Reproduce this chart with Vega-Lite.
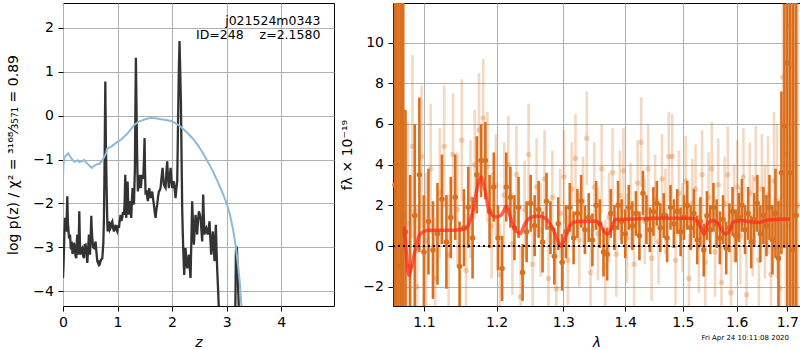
{
  "$schema": "https://vega.github.io/schema/vega-lite/v6.json",
  "padding": {"left": 5, "top": 1, "right": 1, "bottom": 0},
  "autosize": {"type": "pad"},
  "bounds": "flush",
  "spacing": 59,
  "config": {
    "font": "DejaVu Sans",
    "view": {"stroke": "black", "strokeWidth": 1},
    "axis": {"domain": false, "grid": true, "gridColor": "#b0b0b0", "gridWidth": 1, "tickColor": "black", "tickSize": 5, "labelFontSize": 14, "labelColor": "black", "labelPadding": 4.5, "titleFontSize": 14, "titleFontWeight": "normal", "titleColor": "black", "labelFlush": false},
    "title": {"font": "DejaVu Sans"}
  },
  "datasets": {
    "pz": [
      {"z":0.000,"v":-3.70},{"z":0.010,"v":-3.40},{"z":0.025,"v":-2.70},{"z":0.037,"v":-2.33},{"z":0.050,"v":-2.60},{"z":0.061,"v":-2.64},{"z":0.079,"v":-1.84},{"z":0.090,"v":-2.45},{"z":0.098,"v":-2.56},{"z":0.110,"v":-2.80},
      {"z":0.128,"v":-2.71},{"z":0.145,"v":-3.05},{"z":0.159,"v":-2.87},{"z":0.175,"v":-3.15},{"z":0.189,"v":-3.10},{"z":0.200,"v":-2.90},{"z":0.214,"v":-2.98},{"z":0.230,"v":-3.20},{"z":0.244,"v":-3.25},{"z":0.255,"v":-2.85},
      {"z":0.263,"v":-2.71},{"z":0.272,"v":-3.05},{"z":0.281,"v":-3.17},{"z":0.290,"v":-2.80},{"z":0.299,"v":-2.18},{"z":0.310,"v":-2.90},{"z":0.324,"v":-3.17},{"z":0.338,"v":-3.05},{"z":0.354,"v":-3.02},{"z":0.370,"v":-3.20},
      {"z":0.385,"v":-3.25},{"z":0.400,"v":-2.95},{"z":0.415,"v":-2.94},{"z":0.430,"v":-3.10},{"z":0.446,"v":-3.36},{"z":0.462,"v":-3.00},{"z":0.476,"v":-2.71},{"z":0.485,"v":-3.05},{"z":0.495,"v":-3.17},{"z":0.507,"v":-2.80},
      {"z":0.519,"v":-2.28},{"z":0.528,"v":-2.60},{"z":0.537,"v":-2.79},{"z":0.552,"v":-3.00},{"z":0.568,"v":-3.02},{"z":0.583,"v":-2.95},{"z":0.598,"v":-2.87},{"z":0.612,"v":-3.10},{"z":0.629,"v":-3.32},{"z":0.650,"v":-3.38},
      {"z":0.665,"v":-3.30},{"z":0.678,"v":-3.36},{"z":0.700,"v":-3.28},{"z":0.721,"v":-3.25},{"z":0.740,"v":-2.90},{"z":0.751,"v":-2.33},{"z":0.765,"v":-0.80},{"z":0.776,"v":0.78},{"z":0.786,"v":-0.60},{"z":0.800,"v":-1.65},
      {"z":0.810,"v":-2.30},{"z":0.818,"v":-2.64},{"z":0.830,"v":-2.45},{"z":0.843,"v":-2.41},{"z":0.858,"v":-2.60},{"z":0.873,"v":-2.56},{"z":0.888,"v":-2.45},{"z":0.904,"v":-2.41},{"z":0.918,"v":-2.55},{"z":0.934,"v":-2.64},
      {"z":0.950,"v":-2.55},{"z":0.965,"v":-2.49},{"z":0.980,"v":-2.60},{"z":0.995,"v":-2.64},{"z":1.010,"v":-2.50},{"z":1.026,"v":-2.56},{"z":1.040,"v":-2.40},{"z":1.056,"v":-2.26},{"z":1.070,"v":-2.40},{"z":1.087,"v":-2.33},
      {"z":1.100,"v":-2.20},{"z":1.118,"v":-2.26},{"z":1.130,"v":-2.00},{"z":1.142,"v":-1.35},{"z":1.150,"v":-1.90},{"z":1.160,"v":-2.33},{"z":1.172,"v":-1.80},{"z":1.185,"v":-1.50},{"z":1.195,"v":-2.00},{"z":1.203,"v":-2.26},
      {"z":1.215,"v":-2.05},{"z":1.227,"v":-1.95},{"z":1.240,"v":-2.15},{"z":1.252,"v":-2.33},{"z":1.265,"v":-1.90},{"z":1.276,"v":-1.65},{"z":1.290,"v":-1.85},{"z":1.301,"v":-2.03},{"z":1.310,"v":-1.60},{"z":1.319,"v":-1.19},
      {"z":1.328,"v":0.20},{"z":1.337,"v":1.32},{"z":1.346,"v":0.40},{"z":1.356,"v":-0.59},{"z":1.365,"v":-1.30},{"z":1.374,"v":-1.73},{"z":1.383,"v":-1.55},{"z":1.392,"v":-1.65},{"z":1.400,"v":-1.50},{"z":1.411,"v":-1.35},
      {"z":1.420,"v":-1.50},{"z":1.429,"v":-1.65},{"z":1.440,"v":-1.45},{"z":1.453,"v":-1.35},{"z":1.462,"v":-1.42},{"z":1.472,"v":-1.42},{"z":1.485,"v":-1.00},{"z":1.496,"v":-0.51},{"z":1.505,"v":-1.30},{"z":1.515,"v":-1.80},
      {"z":1.525,"v":-1.70},{"z":1.533,"v":-1.73},{"z":1.545,"v":-1.85},{"z":1.557,"v":-1.95},{"z":1.570,"v":-1.75},{"z":1.582,"v":-1.65},{"z":1.595,"v":-1.80},{"z":1.606,"v":-1.88},{"z":1.620,"v":-1.80},{"z":1.637,"v":-1.73},
      {"z":1.652,"v":-1.90},{"z":1.667,"v":-2.03},{"z":1.682,"v":-2.20},{"z":1.698,"v":-2.33},{"z":1.712,"v":-2.15},{"z":1.728,"v":-2.03},{"z":1.743,"v":-1.85},{"z":1.759,"v":-1.73},{"z":1.775,"v":-1.70},{"z":1.789,"v":-1.65},
      {"z":1.808,"v":-1.40},{"z":1.826,"v":-1.19},{"z":1.838,"v":-1.40},{"z":1.850,"v":-1.57},{"z":1.865,"v":-1.62},{"z":1.881,"v":-1.65},{"z":1.895,"v":-1.30},{"z":1.911,"v":-1.04},{"z":1.925,"v":-1.40},{"z":1.942,"v":-1.65},
      {"z":1.958,"v":-1.40},{"z":1.973,"v":-1.19},{"z":1.988,"v":-1.45},{"z":2.003,"v":-1.65},{"z":2.018,"v":-1.55},{"z":2.034,"v":-1.50},{"z":2.050,"v":-1.70},{"z":2.064,"v":-1.88},{"z":2.080,"v":-1.65},{"z":2.095,"v":-1.50},
      {"z":2.105,"v":-0.60},{"z":2.113,"v":0.10},{"z":2.125,"v":1.10},{"z":2.137,"v":1.70},{"z":2.150,"v":1.00},{"z":2.162,"v":0.33},{"z":2.175,"v":-1.00},{"z":2.186,"v":-2.11},{"z":2.195,"v":-2.60},{"z":2.205,"v":-3.02},
      {"z":2.215,"v":-3.40},{"z":2.223,"v":-3.63},{"z":2.235,"v":-3.30},{"z":2.247,"v":-3.02},{"z":2.262,"v":-3.30},{"z":2.278,"v":-3.48},{"z":2.293,"v":-3.30},{"z":2.308,"v":-3.17},{"z":2.323,"v":-3.45},{"z":2.339,"v":-3.70},
      {"z":2.355,"v":-2.80},{"z":2.369,"v":-1.95},{"z":2.385,"v":-2.50},{"z":2.400,"v":-2.94},{"z":2.415,"v":-2.60},{"z":2.431,"v":-2.26},{"z":2.446,"v":-2.50},{"z":2.461,"v":-2.71},{"z":2.476,"v":-2.40},{"z":2.492,"v":-2.18},
      {"z":2.507,"v":-2.25},{"z":2.522,"v":-2.33},{"z":2.538,"v":-2.60},{"z":2.553,"v":-2.87},{"z":2.562,"v":-2.30},{"z":2.571,"v":-1.80},{"z":2.583,"v":-2.30},{"z":2.595,"v":-2.71},{"z":2.610,"v":-2.60},{"z":2.626,"v":-2.56},
      {"z":2.641,"v":-2.65},{"z":2.656,"v":-2.71},{"z":2.672,"v":-2.55},{"z":2.687,"v":-2.41},{"z":2.702,"v":-2.80},{"z":2.718,"v":-3.17},{"z":2.733,"v":-2.90},{"z":2.748,"v":-2.64},{"z":2.763,"v":-3.00},{"z":2.779,"v":-3.32},
      {"z":2.791,"v":-2.90},{"z":2.803,"v":-2.49},{"z":2.815,"v":-3.00},{"z":2.827,"v":-3.48},{"z":2.842,"v":-3.90},{"z":2.858,"v":-4.40},{"z":2.880,"v":-5.00},{"z":2.920,"v":-5.60},{"z":2.980,"v":-6.00},{"z":3.050,"v":-5.80},
      {"z":3.120,"v":-5.20},{"z":3.160,"v":-4.50},{"z":3.170,"v":-3.20},{"z":3.176,"v":-2.98},{"z":3.190,"v":-3.02},{"z":3.200,"v":-3.40},{"z":3.210,"v":-3.86},{"z":3.230,"v":-4.60},{"z":3.280,"v":-5.50},{"z":3.350,"v":-6.00}
    ],
    "chi": [
      {"z":0.000,"v":-1.40},{"z":0.008,"v":-1.10},{"z":0.030,"v":-0.95},{"z":0.060,"v":-0.90},{"z":0.097,"v":-0.86},{"z":0.130,"v":-0.93},{"z":0.170,"v":-1.00},{"z":0.207,"v":-1.05},{"z":0.240,"v":-1.03},{"z":0.270,"v":-1.02},
      {"z":0.300,"v":-1.06},{"z":0.340,"v":-1.04},{"z":0.391,"v":-1.01},{"z":0.420,"v":-1.06},{"z":0.453,"v":-1.10},{"z":0.490,"v":-1.15},{"z":0.527,"v":-1.19},{"z":0.560,"v":-1.15},{"z":0.606,"v":-1.12},{"z":0.640,"v":-1.10},
      {"z":0.666,"v":-1.10},{"z":0.700,"v":-1.05},{"z":0.728,"v":-1.01},{"z":0.760,"v":-0.93},{"z":0.789,"v":-0.86},{"z":0.810,"v":-0.75},{"z":0.840,"v":-0.73},{"z":0.881,"v":-0.71},{"z":0.930,"v":-0.66},{"z":0.972,"v":-0.62},
      {"z":1.020,"v":-0.58},{"z":1.064,"v":-0.55},{"z":1.120,"v":-0.48},{"z":1.187,"v":-0.40},{"z":1.250,"v":-0.30},{"z":1.308,"v":-0.21},{"z":1.380,"v":-0.14},{"z":1.462,"v":-0.10},{"z":1.540,"v":-0.07},{"z":1.615,"v":-0.05},
      {"z":1.700,"v":-0.06},{"z":1.798,"v":-0.08},{"z":1.890,"v":-0.10},{"z":1.982,"v":-0.12},{"z":2.060,"v":-0.17},{"z":2.134,"v":-0.23},{"z":2.210,"v":-0.31},{"z":2.288,"v":-0.40},{"z":2.380,"v":-0.52},{"z":2.472,"v":-0.67},
      {"z":2.565,"v":-0.85},{"z":2.655,"v":-1.05},{"z":2.750,"v":-1.27},{"z":2.839,"v":-1.51},{"z":2.920,"v":-1.74},{"z":3.000,"v":-2.00},{"z":3.060,"v":-2.25},{"z":3.120,"v":-2.60},{"z":3.170,"v":-3.00},{"z":3.210,"v":-3.40},
      {"z":3.245,"v":-3.85},{"z":3.275,"v":-4.40},{"z":3.300,"v":-4.90}
    ],
    "dark": [
      {"lam":1.0625,"f":3.0,"e":20},{"lam":1.064,"f":4.0,"e":20},{"lam":1.067,"f":-1.0,"e":18},{"lam":1.070,"f":3.9,"e":15},{"lam":1.073,"f":1.5,"e":12},{"lam":1.076,"f":0.7,"e":6},{"lam":1.082,"f":-1.0,"e":4.5},{"lam":1.088,"f":1.5,"e":4.5},{"lam":1.094,"f":3.5,"e":3.8},{"lam":1.100,"f":-0.3,"e":2.8},{"lam":1.106,"f":1.2,"e":2.6},{"lam":1.112,"f":-0.2,"e":2.4},{"lam":1.118,"f":0.6,"e":2.5},
      {"lam":1.124,"f":2.3,"e":2.2},{"lam":1.130,"f":0.2,"e":2.3},{"lam":1.136,"f":1.4,"e":2.0},{"lam":1.142,"f":2.4,"e":2.1},{"lam":1.148,"f":-1.0,"e":2.2},{"lam":1.154,"f":0.9,"e":1.9},{"lam":1.160,"f":1.9,"e":2.0},{"lam":1.166,"f":0.4,"e":2.0},{"lam":1.172,"f":3.5,"e":1.9},{"lam":1.178,"f":4.2,"e":1.8},
      {"lam":1.184,"f":4.2,"e":1.9},{"lam":1.190,"f":1.7,"e":1.8},{"lam":1.196,"f":2.9,"e":1.7},{"lam":1.202,"f":0.4,"e":1.6},{"lam":1.208,"f":-1.1,"e":1.6},{"lam":1.214,"f":2.9,"e":1.7},{"lam":1.220,"f":2.4,"e":1.5},{"lam":1.226,"f":0.9,"e":1.6},{"lam":1.232,"f":1.9,"e":1.5},{"lam":1.238,"f":-1.3,"e":1.4},
      {"lam":1.244,"f":0.7,"e":1.5},{"lam":1.250,"f":2.1,"e":1.4},{"lam":1.256,"f":1.0,"e":1.5},{"lam":1.262,"f":1.8,"e":1.4},{"lam":1.268,"f":0.2,"e":1.5},{"lam":1.274,"f":2.2,"e":1.4},{"lam":1.280,"f":0.9,"e":1.3},{"lam":1.286,"f":-0.5,"e":1.4},{"lam":1.292,"f":1.1,"e":1.3},{"lam":1.298,"f":-0.8,"e":1.4},
      {"lam":1.304,"f":0.7,"e":1.3},{"lam":1.310,"f":1.9,"e":1.2},{"lam":1.316,"f":0.4,"e":1.3},{"lam":1.322,"f":1.6,"e":1.2},{"lam":1.328,"f":2.2,"e":1.3},{"lam":1.334,"f":0.8,"e":1.2},{"lam":1.340,"f":1.4,"e":1.2},{"lam":1.346,"f":0.3,"e":1.3},{"lam":1.352,"f":2.0,"e":1.2},{"lam":1.358,"f":1.1,"e":1.2},
      {"lam":1.364,"f":-0.3,"e":1.2},{"lam":1.370,"f":-0.4,"e":1.3},{"lam":1.376,"f":1.6,"e":1.2},{"lam":1.382,"f":0.9,"e":1.1},{"lam":1.388,"f":2.0,"e":1.2},{"lam":1.394,"f":1.2,"e":1.1},{"lam":1.400,"f":0.6,"e":1.2},{"lam":1.406,"f":1.9,"e":1.1},{"lam":1.412,"f":1.0,"e":1.2},{"lam":1.418,"f":1.6,"e":1.1},
      {"lam":1.424,"f":0.5,"e":1.2},{"lam":1.430,"f":2.6,"e":1.1},{"lam":1.436,"f":1.3,"e":1.2},{"lam":1.442,"f":0.8,"e":1.1},{"lam":1.448,"f":1.7,"e":1.2},{"lam":1.454,"f":2.1,"e":1.1},{"lam":1.460,"f":0.9,"e":1.2},{"lam":1.466,"f":1.5,"e":1.1},{"lam":1.472,"f":0.4,"e":1.2},{"lam":1.478,"f":1.9,"e":1.1},
      {"lam":1.484,"f":1.1,"e":1.2},{"lam":1.490,"f":1.7,"e":1.1},{"lam":1.496,"f":0.7,"e":1.2},{"lam":1.502,"f":1.4,"e":1.1},{"lam":1.508,"f":2.0,"e":1.2},{"lam":1.514,"f":0.9,"e":1.1},{"lam":1.520,"f":1.6,"e":1.2},{"lam":1.526,"f":0.3,"e":1.2},{"lam":1.532,"f":1.2,"e":1.2},{"lam":1.538,"f":-0.2,"e":1.3},
      {"lam":1.544,"f":1.5,"e":1.2},{"lam":1.550,"f":0.8,"e":1.2},{"lam":1.556,"f":1.9,"e":1.2},{"lam":1.562,"f":1.1,"e":1.2},{"lam":1.568,"f":0.4,"e":1.3},{"lam":1.574,"f":1.3,"e":1.2},{"lam":1.580,"f":-0.1,"e":1.3},{"lam":1.586,"f":0.9,"e":1.2},{"lam":1.592,"f":1.7,"e":1.2},{"lam":1.598,"f":0.5,"e":1.3},
      {"lam":1.604,"f":1.4,"e":1.2},{"lam":1.610,"f":2.0,"e":1.3},{"lam":1.616,"f":0.8,"e":1.2},{"lam":1.622,"f":1.6,"e":1.3},{"lam":1.628,"f":0.2,"e":1.3},{"lam":1.634,"f":1.3,"e":1.3},{"lam":1.640,"f":2.1,"e":1.4},{"lam":1.646,"f":0.6,"e":1.4},{"lam":1.652,"f":1.5,"e":1.4},{"lam":1.658,"f":1.0,"e":1.5},
      {"lam":1.664,"f":1.9,"e":1.6},{"lam":1.670,"f":0.3,"e":1.7},{"lam":1.676,"f":1.6,"e":2.2},{"lam":1.682,"f":-0.6,"e":2.8},{"lam":1.688,"f":3.6,"e":4.0},{"lam":1.694,"f":5.9,"e":6},{"lam":1.700,"f":9.0,"e":12},{"lam":1.706,"f":3.6,"e":15},{"lam":1.712,"f":-0.2,"e":20},{"lam":1.718,"f":1.5,"e":20}
    ],
    "light": [
      {"lam":1.067,"f":4.4,"e":10},{"lam":1.073,"f":6.2,"e":6},{"lam":1.079,"f":1.1,"e":5},{"lam":1.085,"f":4.9,"e":4.5},{"lam":1.091,"f":-2.0,"e":4},{"lam":1.097,"f":4.4,"e":3.5},{"lam":1.103,"f":0.3,"e":3.3},{"lam":1.109,"f":3.8,"e":3.2},{"lam":1.115,"f":-1.6,"e":3.0},{"lam":1.121,"f":2.6,"e":3.2},
      {"lam":1.127,"f":4.9,"e":3.0},{"lam":1.133,"f":-0.4,"e":2.9},{"lam":1.139,"f":4.5,"e":3.0},{"lam":1.145,"f":1.8,"e":2.8},{"lam":1.151,"f":5.2,"e":3.0},{"lam":1.157,"f":-1.2,"e":2.8},{"lam":1.163,"f":2.3,"e":2.9},{"lam":1.169,"f":4.0,"e":2.7},{"lam":1.175,"f":5.7,"e":2.8},{"lam":1.181,"f":6.3,"e":2.9},
      {"lam":1.187,"f":3.9,"e":2.7},{"lam":1.193,"f":1.0,"e":2.6},{"lam":1.199,"f":3.0,"e":2.5},{"lam":1.205,"f":-1.4,"e":2.5},{"lam":1.211,"f":2.5,"e":2.6},{"lam":1.217,"f":4.0,"e":2.4},{"lam":1.223,"f":0.1,"e":2.5},{"lam":1.229,"f":3.5,"e":2.4},{"lam":1.235,"f":-2.5,"e":2.5},{"lam":1.241,"f":1.8,"e":2.4},
      {"lam":1.247,"f":4.5,"e":2.5},{"lam":1.253,"f":-0.9,"e":2.3},{"lam":1.259,"f":2.9,"e":2.4},{"lam":1.265,"f":0.8,"e":2.3},{"lam":1.271,"f":3.3,"e":2.4},{"lam":1.277,"f":-1.6,"e":2.3},{"lam":1.283,"f":2.4,"e":2.3},{"lam":1.289,"f":-2.1,"e":2.4},{"lam":1.295,"f":1.6,"e":2.2},{"lam":1.301,"f":3.4,"e":2.3},
      {"lam":1.307,"f":-0.7,"e":2.2},{"lam":1.313,"f":2.8,"e":2.3},{"lam":1.319,"f":4.3,"e":2.2},{"lam":1.325,"f":0.3,"e":2.3},{"lam":1.331,"f":2.2,"e":2.2},{"lam":1.337,"f":5.3,"e":2.3},{"lam":1.343,"f":-1.3,"e":2.2},{"lam":1.349,"f":2.9,"e":2.2},{"lam":1.355,"f":0.6,"e":2.3},{"lam":1.361,"f":3.8,"e":2.2},
      {"lam":1.367,"f":-1.0,"e":2.3},{"lam":1.373,"f":1.4,"e":2.2},{"lam":1.379,"f":3.6,"e":2.2},{"lam":1.385,"f":-0.4,"e":2.1},{"lam":1.391,"f":2.5,"e":2.2},{"lam":1.397,"f":3.7,"e":2.1},{"lam":1.403,"f":0.4,"e":2.2},{"lam":1.409,"f":2.0,"e":2.1},{"lam":1.415,"f":-0.9,"e":2.2},{"lam":1.421,"f":3.1,"e":2.1},
      {"lam":1.427,"f":5.1,"e":2.2},{"lam":1.433,"f":1.2,"e":2.1},{"lam":1.439,"f":3.8,"e":2.2},{"lam":1.445,"f":-0.6,"e":2.1},{"lam":1.451,"f":2.3,"e":2.2},{"lam":1.457,"f":0.2,"e":2.1},{"lam":1.463,"f":3.3,"e":2.2},{"lam":1.469,"f":1.7,"e":2.1},{"lam":1.475,"f":4.4,"e":2.2},{"lam":1.481,"f":4.4,"e":2.1},
      {"lam":1.487,"f":-0.7,"e":2.2},{"lam":1.493,"f":2.6,"e":2.1},{"lam":1.499,"f":0.9,"e":2.2},{"lam":1.505,"f":3.2,"e":2.2},{"lam":1.511,"f":-1.6,"e":2.2},{"lam":1.517,"f":2.1,"e":2.2},{"lam":1.523,"f":2.8,"e":2.2},{"lam":1.529,"f":0.0,"e":2.3},{"lam":1.535,"f":3.5,"e":2.2},{"lam":1.541,"f":-0.8,"e":2.3},
      {"lam":1.547,"f":2.4,"e":2.2},{"lam":1.553,"f":3.8,"e":2.3},{"lam":1.559,"f":-0.3,"e":2.2},{"lam":1.565,"f":3.0,"e":2.3},{"lam":1.571,"f":-1.8,"e":2.3},{"lam":1.577,"f":2.1,"e":2.3},{"lam":1.583,"f":3.5,"e":2.4},{"lam":1.589,"f":-2.3,"e":2.3},{"lam":1.595,"f":1.6,"e":2.4},{"lam":1.601,"f":2.9,"e":2.3},
      {"lam":1.607,"f":0.5,"e":2.4},{"lam":1.613,"f":3.4,"e":2.4},{"lam":1.619,"f":-2.4,"e":2.4},{"lam":1.625,"f":2.6,"e":2.5},{"lam":1.631,"f":1.0,"e":2.5},{"lam":1.637,"f":3.3,"e":2.6},{"lam":1.643,"f":-0.7,"e":2.6},{"lam":1.649,"f":2.8,"e":2.7},{"lam":1.655,"f":1.2,"e":2.8},{"lam":1.661,"f":2.5,"e":2.9},
      {"lam":1.667,"f":-1.4,"e":3.1},{"lam":1.673,"f":3.2,"e":3.4},{"lam":1.679,"f":2.2,"e":3.8},{"lam":1.685,"f":-2.1,"e":4.5},{"lam":1.691,"f":8.3,"e":6},{"lam":1.697,"f":4.5,"e":8},{"lam":1.703,"f":10.8,"e":10},{"lam":1.709,"f":8.9,"e":12},{"lam":1.715,"f":6.0,"e":15},{"lam":1.721,"f":2.0,"e":20}
    ],
    "model": [
      {"lam":1.0742,"f":0.95},{"lam":1.0770,"f":-0.3},{"lam":1.0802,"f":-1.44},{"lam":1.0840,"f":-1.0},{"lam":1.0870,"f":-0.45},{"lam":1.0900,"f":-0.05},{"lam":1.0930,"f":0.45},{"lam":1.0970,"f":0.65},{"lam":1.1057,"f":0.78},{"lam":1.1200,"f":0.78},
      {"lam":1.1400,"f":0.78},{"lam":1.1535,"f":0.82},{"lam":1.1590,"f":0.95},{"lam":1.1630,"f":1.3},{"lam":1.1675,"f":1.83},{"lam":1.1710,"f":2.6},{"lam":1.1746,"f":3.14},{"lam":1.1783,"f":3.39},{"lam":1.1810,"f":3.1},{"lam":1.1840,"f":2.65},
      {"lam":1.1885,"f":1.83},{"lam":1.1930,"f":1.55},{"lam":1.1984,"f":1.43},{"lam":1.2061,"f":1.5},{"lam":1.2100,"f":1.7},{"lam":1.2140,"f":1.97},{"lam":1.2193,"f":1.5},{"lam":1.2250,"f":0.95},{"lam":1.2302,"f":0.69},{"lam":1.2350,"f":0.61},
      {"lam":1.2400,"f":1.0},{"lam":1.2460,"f":1.3},{"lam":1.2527,"f":1.43},{"lam":1.2600,"f":1.48},{"lam":1.2730,"f":1.35},{"lam":1.2790,"f":1.1},{"lam":1.2838,"f":0.85},{"lam":1.2900,"f":0.35},{"lam":1.2963,"f":-0.01},{"lam":1.3000,"f":0.2},
      {"lam":1.3045,"f":0.53},{"lam":1.3110,"f":1.05},{"lam":1.3210,"f":1.2},{"lam":1.3400,"f":1.22},{"lam":1.3523,"f":1.22},{"lam":1.3570,"f":1.12},{"lam":1.3609,"f":0.95},{"lam":1.3650,"f":0.7},{"lam":1.3699,"f":0.6},{"lam":1.3735,"f":0.65},
      {"lam":1.3769,"f":0.85},{"lam":1.3800,"f":1.1},{"lam":1.3830,"f":1.3},{"lam":1.4166,"f":1.33},{"lam":1.4500,"f":1.37},{"lam":1.4900,"f":1.37},{"lam":1.5197,"f":1.35},{"lam":1.5260,"f":1.2},{"lam":1.5320,"f":0.95},{"lam":1.5390,"f":0.59},
      {"lam":1.5460,"f":1.15},{"lam":1.5560,"f":1.25},{"lam":1.5600,"f":1.22},{"lam":1.5670,"f":1.0},{"lam":1.5720,"f":0.75},{"lam":1.5770,"f":0.6},{"lam":1.5840,"f":0.65},{"lam":1.5890,"f":0.9},{"lam":1.5930,"f":1.18},{"lam":1.6090,"f":1.25},
      {"lam":1.6250,"f":1.2},{"lam":1.6405,"f":1.15},{"lam":1.6610,"f":1.28},{"lam":1.7000,"f":1.33},{"lam":1.7050,"f":1.32}
    ]
  },
  "hconcat": [
    {
      "width": 271,
      "height": 303,
      "layer": [
        {
          "data": {"name": "pz"},
          "mark": {"type": "line", "color": "#333333", "strokeWidth": 2.3, "clip": true},
          "encoding": {
            "x": {"field": "z", "type": "quantitative", "title": "z", "scale": {"domain": [0, 4.97], "nice": false, "zero": false}, "axis": {"values": [0, 1, 2, 3, 4], "titleFontStyle": "italic", "titlePadding": 6}},
            "y": {"field": "v", "type": "quantitative", "title": "log p(z) / χ² = ³¹⁶⁸⁄₃₅₇₁ = 0.89", "scale": {"domain": [-4.34, 2.57], "nice": false, "zero": false}, "axis": {"values": [-4, -3, -2, -1, 0, 1, 2], "minExtent": 30, "maxExtent": 30, "titlePadding": 13}}
          }
        },
        {
          "data": {"name": "chi"},
          "mark": {"type": "line", "color": "#8bbadb", "strokeWidth": 2, "clip": true},
          "encoding": {
            "x": {"field": "z", "type": "quantitative", "title": "z"},
            "y": {"field": "v", "type": "quantitative", "title": "log p(z) / χ² = ³¹⁶⁸⁄₃₅₇₁ = 0.89"}
          }
        },
        {
          "data": {"values": [{}]},
          "mark": {"type": "text", "align": "right", "baseline": "middle", "fontSize": 12.5, "color": "black", "text": "j021524m0343"},
          "encoding": {"x": {"datum": 4.72}, "y": {"datum": 2.15}}
        },
        {
          "data": {"values": [{}]},
          "mark": {"type": "text", "align": "right", "baseline": "middle", "fontSize": 12.5, "color": "black", "text": "ID=248\u00a0\u00a0\u00a0\u00a0z=2.1580"},
          "encoding": {"x": {"datum": 4.72}, "y": {"datum": 1.83}}
        }
      ]
    },
    {
      "width": 407,
      "height": 303,
      "title": {"text": "Fri Apr 24 10:11:08 2020", "orient": "bottom", "anchor": "end", "fontSize": 7, "fontWeight": "normal", "color": "black", "offset": -16, "dx": -12},
      "layer": [
        {
          "data": {"name": "light"},
          "mark": {"type": "errorbar", "color": "#d9701f", "opacity": 0.27, "thickness": 2.6},
          "encoding": {
            "x": {"field": "lam", "type": "quantitative", "title": "λ", "scale": {"type": "log", "domain": [1.06, 1.726], "nice": false}, "axis": {"values": [1.1, 1.2, 1.3, 1.4, 1.5, 1.6, 1.7], "format": ".1f", "titleFontStyle": "italic", "titlePadding": 6}},
            "y": {"field": "f", "type": "quantitative", "title": "fλ × 10⁻¹⁹", "scale": {"domain": [-2.95, 11.95], "nice": false, "zero": false, "clamp": true}, "axis": {"values": [-2, 0, 2, 4, 6, 8, 10], "minExtent": 27, "maxExtent": 27, "titlePadding": 12}},
            "yError": {"field": "e"}
          }
        },
        {
          "data": {"name": "light"},
          "mark": {"type": "point", "filled": true, "color": "#d9701f", "opacity": 0.3, "size": 30},
          "encoding": {
            "x": {"field": "lam", "type": "quantitative", "title": "λ"},
            "y": {"field": "f", "type": "quantitative", "title": "fλ × 10⁻¹⁹"}
          }
        },
        {
          "data": {"name": "dark"},
          "mark": {"type": "errorbar", "color": "#d9701f", "opacity": 1, "thickness": 2.6},
          "encoding": {
            "x": {"field": "lam", "type": "quantitative", "title": "λ"},
            "y": {"field": "f", "type": "quantitative", "title": "fλ × 10⁻¹⁹"},
            "yError": {"field": "e"}
          }
        },
        {
          "data": {"name": "dark"},
          "mark": {"type": "point", "filled": true, "color": "#d9701f", "opacity": 1, "size": 30},
          "encoding": {
            "x": {"field": "lam", "type": "quantitative", "title": "λ"},
            "y": {"field": "f", "type": "quantitative", "title": "fλ × 10⁻¹⁹"}
          }
        },
        {
          "data": {"name": "model"},
          "mark": {"type": "line", "color": "#ff2a1a", "opacity": 0.72, "strokeWidth": 3.5, "interpolate": "monotone"},
          "encoding": {
            "x": {"field": "lam", "type": "quantitative", "title": "λ"},
            "y": {"field": "f", "type": "quantitative", "title": "fλ × 10⁻¹⁹"}
          }
        },
        {
          "data": {"values": [{}]},
          "mark": {"type": "rule", "color": "black", "strokeWidth": 2, "strokeDash": [2, 3]},
          "encoding": {"y": {"datum": 0, "title": "fλ × 10⁻¹⁹"}}
        }
      ]
    }
  ]
}
